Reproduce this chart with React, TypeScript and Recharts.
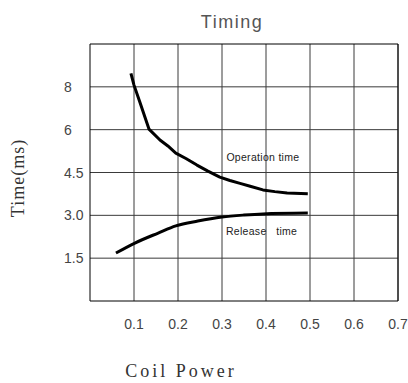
import { LineChart, Line, XAxis, YAxis, CartesianGrid, ReferenceLine, ReferenceDot } from 'recharts';

// coil power (x) and time in ms (y)
const opPower = [0.093, 0.1, 0.114, 0.134, 0.159, 0.177, 0.195, 0.218, 0.243, 0.268, 0.295, 0.318, 0.341, 0.364, 0.393, 0.42, 0.448, 0.495];
const opTime = [7.97, 7.56, 6.93, 6.02, 5.64, 5.43, 5.18, 4.99, 4.76, 4.55, 4.34, 4.22, 4.12, 4.02, 3.89, 3.83, 3.78, 3.76];

const relPower = [0.059, 0.102, 0.155, 0.195, 0.245, 0.3, 0.35, 0.393, 0.495];
const relTime = [1.68, 2.03, 2.38, 2.63, 2.8, 2.94, 3.01, 3.05, 3.08];

const xTicks = [0.1, 0.2, 0.3, 0.4, 0.5, 0.6, 0.7];
const yTicks = [1.5, 3, 4.5, 6, 7.5];
const yTickLabels = ['1.5', '3.0', '4.5', '6', '8'];

const opData = opPower.map((p, i) => ({ p, t: opTime[i] }));
const relData = relPower.map((p, i) => ({ p, t: relTime[i] }));

const sans = '"Liberation Sans", Arial, sans-serif';
const tickFont = { fontFamily: sans, fontSize: 14, fill: '#444' };
const noteStyle = { fontSize: 10.5, fill: '#222', fontFamily: sans, letterSpacing: 0.3 };

function YTick({ y, payload }: any) {
  const i = yTicks.indexOf(payload.value);
  return (
    <text x={64} y={y} dy={5} textAnchor="start" {...tickFont}>
      {yTickLabels[i]}
    </text>
  );
}

export default function App() {
  return (
    <div style={{ position: 'absolute', left: 0, top: 0, width: 408, height: 383, background: '#fff' }}>
      <LineChart width={408} height={383} margin={{ top: 44, right: 10, bottom: 0, left: 0 }}>
        <CartesianGrid stroke="#3a3a3a" strokeWidth={1} horizontalValues={yTicks} verticalValues={xTicks} />
        <XAxis
          type="number"
          dataKey="p"
          domain={[0, 0.7]}
          ticks={xTicks}
          height={82}
          tickLine={false}
          tickSize={0}
          tickMargin={18}
          axisLine={{ stroke: '#000' }}
          tick={tickFont}
          allowDataOverflow
        />
        <YAxis
          type="number"
          domain={[0, 9]}
          ticks={yTicks}
          width={90}
          tickLine={false}
          axisLine={{ stroke: '#000' }}
          tick={<YTick />}
          allowDataOverflow
        />
        <ReferenceLine y={9} stroke="#000" />
        <ReferenceLine x={0.7} stroke="#000" />
        <Line
          data={opData}
          dataKey="t"
          type="linear"
          stroke="#000"
          strokeWidth={3}
          strokeLinejoin="round"
          dot={false}
          isAnimationActive={false}
        />
        <Line
          data={relData}
          dataKey="t"
          type="monotone"
          stroke="#000"
          strokeWidth={3}
          dot={false}
          isAnimationActive={false}
        />
        <ReferenceDot
          x={0.393}
          y={5.04}
          r={0}
          stroke="none"
          label={{ value: 'Operation time', position: 'center', ...noteStyle }}
        />
        <ReferenceDot
          x={0.39}
          y={2.45}
          r={0}
          stroke="none"
          label={{ value: 'Release\u00a0\u00a0\u00a0time', position: 'center', ...noteStyle }}
        />
      </LineChart>
      <svg width={408} height={383} style={{ position: 'absolute', left: 0, top: 0, pointerEvents: 'none' }}>
        <text x={232} y={28} textAnchor="middle" fontFamily={sans} fontSize={18} letterSpacing={1.5} fill="#555">
          Timing
        </text>
        <text
          x={0}
          y={0}
          transform="translate(24 178) rotate(-90)"
          textAnchor="middle"
          fontFamily='"Liberation Serif", serif'
          fontSize={18}
          letterSpacing={1}
          fill="#333"
        >
          Time(ms)
        </text>
        <text x={181} y={377} textAnchor="middle" fontFamily='"Liberation Serif", serif' fontSize={18} letterSpacing={3} fill="#333">
          Coil Power
        </text>
      </svg>
    </div>
  );
}
